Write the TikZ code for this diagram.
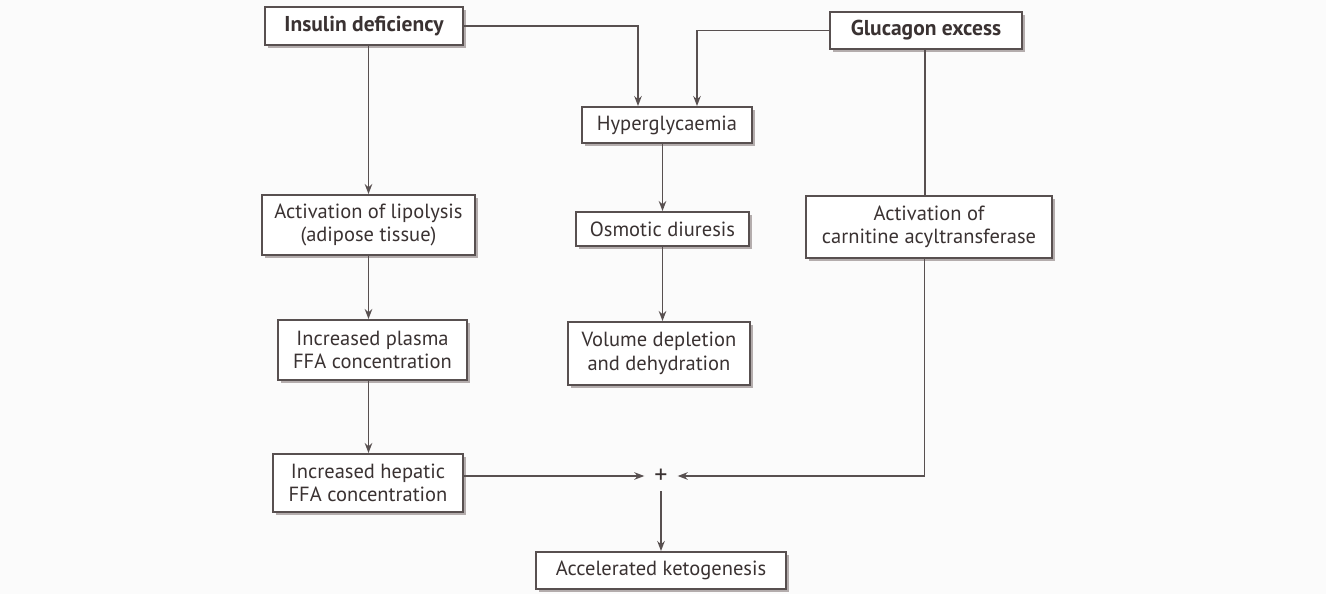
\documentclass[tikz,border=0pt]{standalone}
\usepackage{fontspec}
\setmainfont{PT Sans}
\usetikzlibrary{arrows.meta,shadows}
\definecolor{ink}{HTML}{3A3232}
\definecolor{edge}{HTML}{585050}
\definecolor{shade}{HTML}{A8A0A0}
\definecolor{paper}{HTML}{FBFBFB}
\begin{document}
\begin{tikzpicture}[x=1pt,y=-1pt,
  box/.style={draw=edge, line width=1.9pt, fill=white, text=ink,
    align=center, inner sep=2pt, font=\fontsize{20.5}{23.5}\selectfont,
    drop shadow={shadow xshift=3pt, shadow yshift=-3pt, fill=shade, opacity=0.85}},
  keybox/.style={box, font=\fontsize{21.5}{24}\selectfont\bfseries},
  link/.style={draw=edge, line width=1.9pt},
  arr/.style={link, -{Stealth[length=10pt,width=7.5pt]}}]
\fill[paper] (0,0) rectangle (1326,594);
\useasboundingbox (0,0) rectangle (1326,594);

% causes
\node[keybox, minimum width=198pt, minimum height=38pt] (ins) at (364,26) {Insulin deficiency};
\node[keybox, minimum width=192pt, minimum height=37pt] (glu) at (926,30.5) {Glucagon excess};

% intermediate steps
\node[box, minimum width=170pt, minimum height=36pt] (hyp) at (667,125) {Hyperglycaemia};
\node[box, minimum width=213pt, minimum height=60pt] (lip) at (368.5,225) {Activation of lipolysis\\(adipose tissue)};
\node[box, minimum width=173pt, minimum height=34pt] (osm) at (662.5,229) {Osmotic diuresis};
\node[box, minimum width=246pt, minimum height=62pt] (car) at (929,227) {Activation of\\carnitine acyltransferase};
\node[box, minimum width=189pt, minimum height=60pt] (pla) at (372.5,350) {Increased plasma\\FFA concentration};
\node[box, minimum width=182pt, minimum height=63pt] (vol) at (659,353.5) {Volume depletion\\and dehydration};
\node[box, minimum width=190pt, minimum height=58pt] (hep) at (368,483) {Increased hepatic\\FFA concentration};

% junction and outcome
\node[text=ink, font=\fontsize{26}{26}\selectfont, minimum width=33pt, minimum height=30pt, inner sep=0pt] (plus) at (661,476) {+};
\node[box, minimum width=250pt, minimum height=37pt] (acc) at (661,570.5) {Accelerated ketogenesis};

% connectors
\draw[arr] (ins.east) -| ([xshift=-29pt]hyp.north);
\draw[arr] (glu.west) -| ([xshift=30pt]hyp.north);
\draw[arr] (lip.north |- ins.south) -- (lip.north);
\draw[arr] (osm.north |- hyp.south) -- (osm.north);
\draw[arr] (osm.south) -- (osm.south |- vol.north);
\draw[link] ([xshift=-1pt]glu.south) -- ([xshift=-1pt]glu.south |- car.north);
\draw[arr] (lip.south) -- (lip.south |- pla.north);
\draw[arr] (lip.south |- pla.south) -- (lip.south |- hep.north);
\draw[arr] (hep.east |- plus) -- (plus.west);
\draw[arr] ([xshift=-4.5pt]car.south) |- (plus.east);
\draw[arr] (plus.south) -- (acc.north);
\end{tikzpicture}
\end{document}
